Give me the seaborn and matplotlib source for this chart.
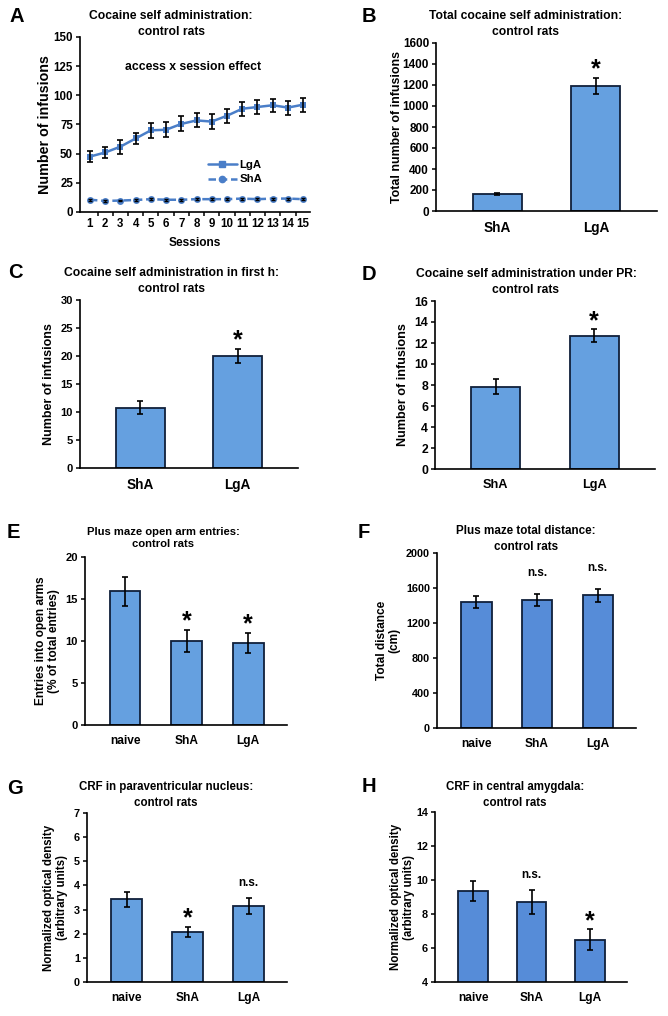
import numpy as np
import pandas as pd
import seaborn as sns
import matplotlib
matplotlib.use('Agg')
import matplotlib.pyplot as plt
from matplotlib.lines import Line2D

sns.set_style('white')
plt.rcParams['font.family'] = ['Liberation Sans', 'DejaVu Sans']
plt.rcParams['font.weight'] = 'bold'
plt.rcParams['axes.labelweight'] = 'bold'
plt.rcParams['text.color'] = 'black'
plt.rcParams['axes.labelcolor'] = 'black'
plt.rcParams['xtick.color'] = 'black'
plt.rcParams['ytick.color'] = 'black'

# ---- data ----
sessions = list(range(1, 16))
lga_mean = [47.5, 51, 56, 63, 70, 70.5, 75.5, 78.5, 77.5, 82.5, 88.5, 90, 91.5, 89.5, 92]
lga_sem = [4.5, 5, 6, 5, 6.5, 6.5, 6.5, 6, 6.5, 6, 6, 6, 5.5, 6, 6]
sha_mean = [10.5, 9.5, 9.8, 10.3, 11, 10.5, 10.5, 11, 11, 11, 11.5, 11, 11.5, 11.5, 11]
sha_sem = [0.8, 0.7, 0.7, 0.8, 0.9, 0.8, 0.8, 0.9, 0.9, 0.9, 0.9, 0.9, 0.9, 0.9, 0.9]

two_groups = ['ShA', 'LgA']
three_groups = ['naive', 'ShA', 'LgA']

total_mean = [160, 1190]
total_sem = [12, 80]
firsth_mean = [10.8, 20.0]
firsth_sem = [1.2, 1.3]
pr_mean = [7.85, 12.7]
pr_sem = [0.75, 0.6]
openarm_mean = [15.9, 10.0, 9.8]
openarm_sem = [1.75, 1.3, 1.2]
distance_mean = [1440, 1460, 1515]
distance_sem = [70, 70, 75]
pvn_mean = [3.42, 2.07, 3.13]
pvn_sem = [0.32, 0.2, 0.33]
cea_mean = [9.35, 8.72, 6.5]
cea_sem = [0.6, 0.7, 0.6]

light = '#65a0e0'
dark = '#568cd8'
edge = '#10203a'
line_col = '#4a7ec8'

W, H = 668, 1016
fig = plt.figure(figsize=(W / 100, H / 100), dpi=100)


def add_ax(x0, y0, x1, y1):
    return fig.add_axes([x0 / W, 1 - y1 / H, (x1 - x0) / W, (y1 - y0) / H])


def style(ax, tick_size):
    sns.despine(ax=ax)
    for s in ['left', 'bottom']:
        ax.spines[s].set_color('black')
        ax.spines[s].set_linewidth(1.2)
    ax.tick_params(axis='y', direction='out', length=3, width=1.1, labelsize=tick_size, pad=2, left=True)
    ax.grid(False)


def title(x, y, txt, size=8.6):
    fig.text(x / W, 1 - y / H, txt, ha='center', va='center', fontsize=size,
             fontweight='bold', linespacing=1.35)


def letter(x, y, txt):
    fig.text(x / W, 1 - y / H, txt, ha='center', va='center', fontsize=14.5, fontweight='bold')


def bar_panel(rect, cats, vals, errs, color, ylim, yticks, ylabel, marks,
              tick_size=8, label_size=8.6, xlab_size=8.8, ypad=4, ns_off=11):
    ax = add_ax(*rect)
    df = pd.DataFrame({'group': cats, 'value': vals})
    sns.barplot(data=df, x='group', y='value', order=cats, color=color, width=0.5,
                saturation=1, edgecolor=edge, linewidth=1.3, errorbar=None, ax=ax)
    ax.errorbar(range(len(cats)), vals, yerr=errs, fmt='none', ecolor='black',
                elinewidth=1.2, capsize=2.5, capthick=1.2)
    n = len(cats)
    ax.set_xlim(-0.62 if n == 2 else -0.65, n - 1 + (0.62 if n == 2 else 0.63))
    ax.set_ylim(*ylim)
    ax.set_yticks(yticks)
    style(ax, tick_size)
    ax.tick_params(axis='x', length=0, labelsize=xlab_size, pad=7)
    ax.set_xlabel('')
    ax.set_ylabel(ylabel, fontsize=label_size, labelpad=ypad, linespacing=1.1)
    for i, m in enumerate(marks):
        top = vals[i] + errs[i]
        if m == '*':
            ax.annotate('*', xy=(i, top), xytext=(0, 1), textcoords='offset points',
                        ha='center', va='baseline', fontsize=18, fontweight='bold')
        elif m:
            ax.annotate(m, xy=(i, top), xytext=(0, ns_off), textcoords='offset points',
                        ha='center', va='center', fontsize=8.5, fontweight='bold')
    return ax


# ---- A: line plot over sessions ----
axA = add_ax(80, 37, 310, 212)
long = pd.DataFrame({'session': sessions * 2,
                     'infusions': lga_mean + sha_mean,
                     'group': ['LgA'] * 15 + ['ShA'] * 15})
sns.lineplot(data=long, x='session', y='infusions', hue='group', style='group',
             palette={'LgA': line_col, 'ShA': line_col},
             dashes={'LgA': '', 'ShA': (3, 1.5)}, markers={'LgA': 's', 'ShA': 'o'},
             markersize=5, markeredgewidth=0, linewidth=1.8, legend=False, ax=axA)
axA.errorbar(sessions, lga_mean, yerr=lga_sem, fmt='none', ecolor='black',
             elinewidth=1.2, capsize=2.5, capthick=1.2)
axA.errorbar(sessions, sha_mean, yerr=sha_sem, fmt='none', ecolor='black',
             elinewidth=1.0, capsize=1.5, capthick=1.0)
axA.set_xlim(0.35, 15.45)
axA.set_ylim(0, 150)
axA.set_yticks([0, 25, 50, 75, 100, 125, 150])
axA.set_xticks(sessions)
axA.set_xticks(np.arange(1.5, 15, 1), minor=True)
style(axA, 8.3)
axA.tick_params(axis='x', which='major', length=0, labelsize=8.3, pad=4)
axA.tick_params(axis='x', which='minor', direction='out', length=3, width=1.1, bottom=True)
axA.set_xlabel('Sessions', fontsize=8.6, labelpad=5)
axA.set_ylabel('Number of infusions', fontsize=10.3, labelpad=1)
axA.text(0.49, 0.83, 'access x session effect', transform=axA.transAxes,
         ha='center', va='center', fontsize=8.8, fontweight='bold')
handles = [Line2D([], [], color=line_col, marker='s', markersize=4.5, lw=1.8, label='LgA'),
           Line2D([], [], color=line_col, marker='o', markersize=4.5, lw=1.8, ls=(0, (3, 1.5)), label='ShA')]
axA.legend(handles=handles, loc='upper left', bbox_to_anchor=(0.53, 0.33), frameon=False,
           fontsize=8.2, handlelength=2.6, handletextpad=0.2, labelspacing=0.4, borderpad=0)
title(171, 24, 'Cocaine self administration:\ncontrol rats', 8.7)
letter(17, 17, 'A')

# ---- B ----
bar_panel((436, 43, 657, 211), two_groups, total_mean, total_sem, light, (0, 1600),
          range(0, 1601, 200), 'Total number of infusions', ['', '*'],
          tick_size=8.5, label_size=8.9, xlab_size=9.8, ypad=0)
title(526, 24, 'Total cocaine self administration:\ncontrol rats', 8.7)
letter(369, 17, 'B')

# ---- C ----
bar_panel((80, 300, 298, 468), two_groups, firsth_mean, firsth_sem, light, (0, 30),
          range(0, 31, 5), 'Number of infusions', ['', '*'],
          tick_size=8, label_size=9, xlab_size=9.8)
title(171, 281, 'Cocaine self administration in first h:\ncontrol rats', 8.7)
letter(15, 273, 'C')

# ---- D ----
bar_panel((435, 301, 655, 469), two_groups, pr_mean, pr_sem, light, (0, 16),
          range(0, 17, 2), 'Number of infusions', ['', '*'],
          tick_size=8.8, label_size=9.1, xlab_size=9.2)
title(526, 282, 'Cocaine self administration under PR:\ncontrol rats', 8.7)
letter(369, 274, 'D')

# ---- E ----
bar_panel((85, 557, 287, 725), three_groups, openarm_mean, openarm_sem, light, (0, 20),
          range(0, 21, 5), 'Entries into open arms\n(% of total entries)', ['', '*', '*'],
          tick_size=8, label_size=8.6, xlab_size=8.6)
title(163, 538, 'Plus maze open arm entries:\ncontrol rats', 8.1)
letter(13, 532, 'E')

# ---- F ----
bar_panel((437, 553, 636, 728), three_groups, distance_mean, distance_sem, dark, (0, 2000),
          range(0, 2001, 400), 'Total distance\n(cm)', ['', 'n.s.', 'n.s.'],
          tick_size=7.8, label_size=8.6, xlab_size=8.6, ns_off=15)
title(526, 539, 'Plus maze total distance:\ncontrol rats', 8.4)
letter(364, 532, 'F')

# ---- G ----
bar_panel((87, 813, 287, 982), three_groups, pvn_mean, pvn_sem, light, (0, 7),
          range(0, 8, 1), 'Normalized optical density\n(arbitrary units)', ['', '*', 'n.s.'],
          tick_size=7.8, label_size=8.3, xlab_size=8.6)
title(166, 795, 'CRF in paraventricular nucleus:\ncontrol rats', 8.3)
letter(15, 788, 'G')

# ---- H ----
bar_panel((435, 812, 627, 982), three_groups, cea_mean, cea_sem, dark, (4, 14),
          range(4, 15, 2), 'Normalized optical density\n(arbitrary units)', ['', 'n.s.', '*'],
          tick_size=7.8, label_size=8.3, xlab_size=8.6, ypad=1)
title(515, 795, 'CRF in central amygdala:\ncontrol rats', 8.3)
letter(369, 787, 'H')

fig.savefig('out.png', dpi=100, facecolor='white')
